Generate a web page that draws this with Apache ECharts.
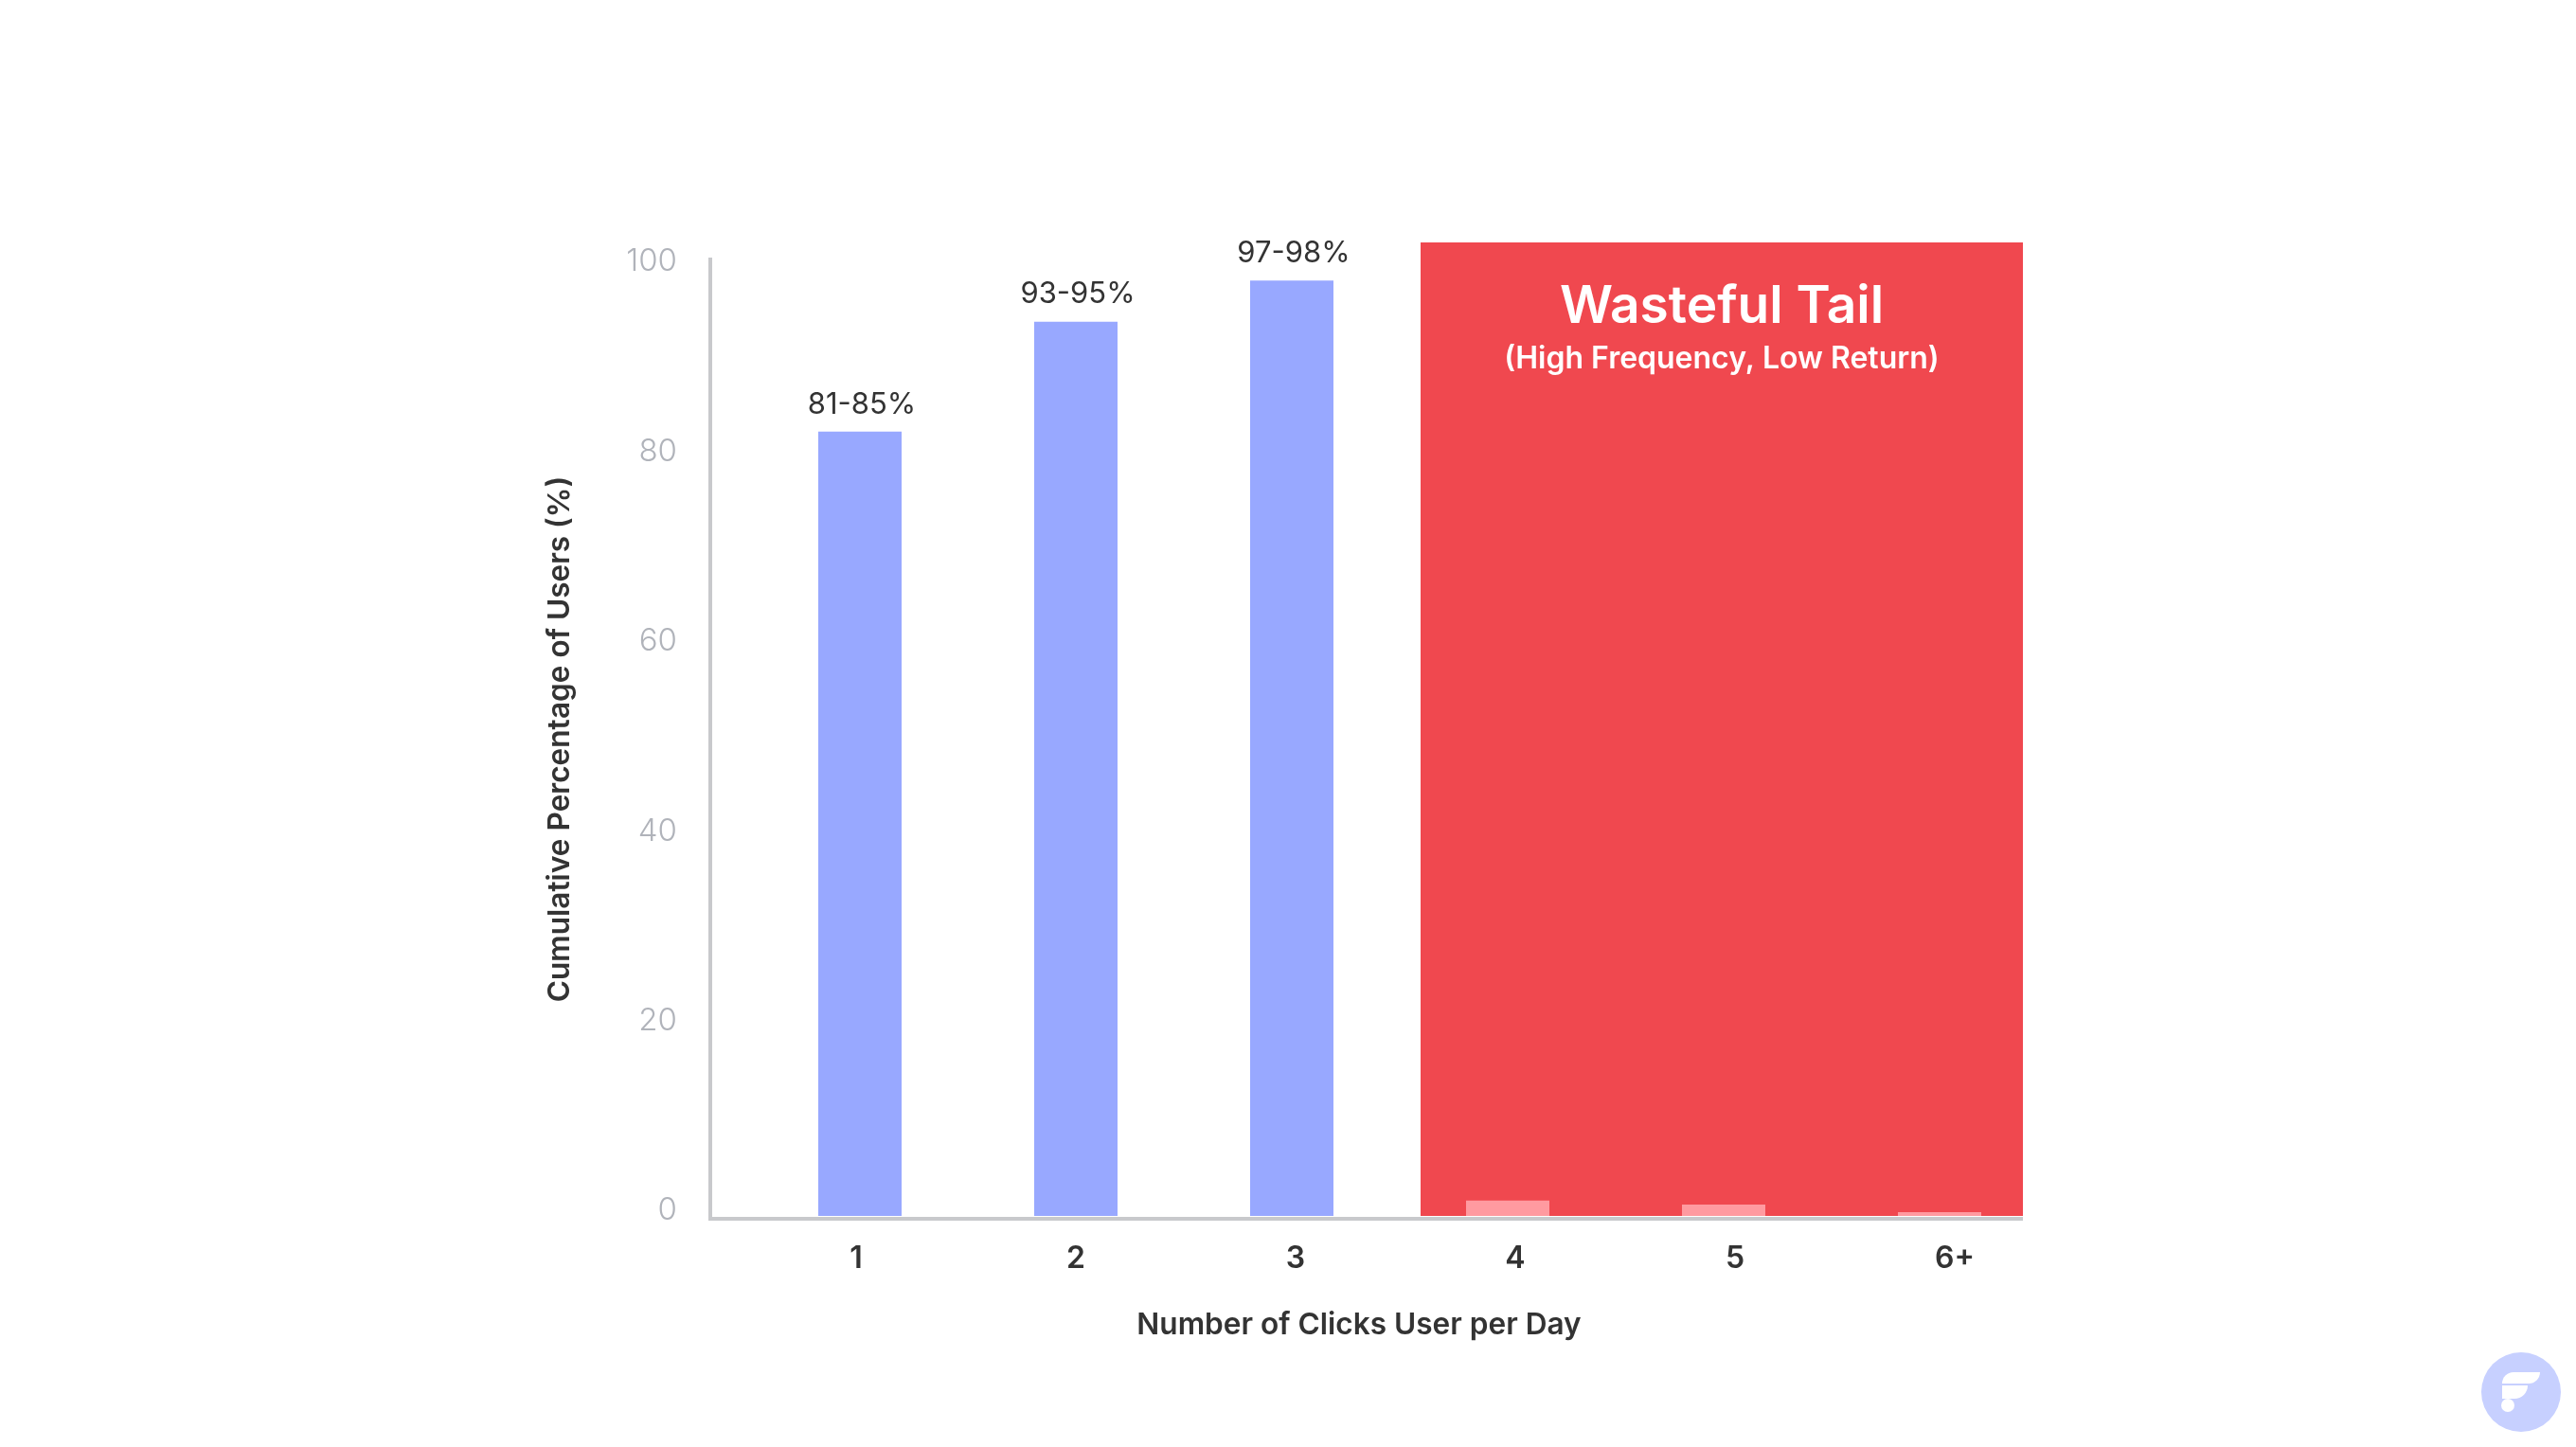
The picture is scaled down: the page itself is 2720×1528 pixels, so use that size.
<!DOCTYPE html>
<html><head><meta charset="utf-8">
<style>html,body{margin:0;padding:0;background:#fff}#c{width:2720px;height:1528px}</style>
<script src="https://cdn.jsdelivr.net/npm/echarts@6/dist/echarts.min.js"></script>
</head><body><div id="c"></div>
<script>
const categories = ["1","2","3","4","5","6+"];
const cumulativeValues = [82, 93.5, 97.8, 1.6, 1.2, 0.4];
const rangeLabels = ["81-85%","93-95%","97-98%","","",""];
const yTicks = [0,20,40,60,80,100];
const panelTitle = "Wasteful Tail";
const panelSubtitle = "(High Frequency, Low Return)";
const xName = "Number of Clicks User per Day";
const yName = "Cumulative Percentage of Users (%)";

const FONT = "Inter";
const chart = echarts.init(document.getElementById('c'), null, {renderer:'canvas', width:2720, height:1528});
chart.setOption({
  animation:false,
  backgroundColor:'#ffffff',
  grid:[
    {left:750, top:274, width:1384, height:1013},
    {left:794, top:256, width:1368, height:1028},
    {left:788, top:274, width:1392, height:1013}
  ],
  xAxis:[
    {gridIndex:0, type:'category', data:categories, position:'bottom',
     axisLine:{onZero:false, lineStyle:{color:'#c8c9cc', width:4, cap:'square'}},
     axisTick:{show:false}, axisLabel:{show:false},
     name:xName, nameLocation:'middle', nameGap:96,
     nameTextStyle:{fontFamily:FONT, fontSize:31.6, fontWeight:600, color:'#333333', padding:[0,14,0,0]}},
    {gridIndex:1, type:'category', data:categories, show:false},
    {gridIndex:2, type:'category', data:categories, axisLine:{show:false}, axisTick:{show:false},
     axisLabel:{fontFamily:FONT, fontSize:32, fontWeight:600, color:'#333333', margin:26}}
  ],
  yAxis:[
    {gridIndex:0, type:'value', min:-0.85, max:100.25,
     splitLine:{show:false},
     axisLine:{show:true, lineStyle:{color:'#c8c9cc', width:4, cap:'square'}},
     axisTick:{show:false},
     axisLabel:{customValues:yTicks, fontFamily:FONT, fontSize:33, fontWeight:300, color:'#b0b3ba', margin:35},
     name:yName, nameLocation:'middle', nameGap:143, nameRotate:90,
     nameTextStyle:{fontFamily:FONT, fontSize:31.6, fontWeight:600, color:'#333333'}},
    {gridIndex:1, type:'value', min:0, max:101.78, show:false},
    {gridIndex:2, type:'value', min:0, max:100, show:false}
  ],
  series:[{
    type:'bar', xAxisIndex:1, yAxisIndex:1, z:3, barWidth:88,
    data:cumulativeValues,
    itemStyle:{color:p=>p.dataIndex<3?'#98a8ff':'#ff9aa0'},
    label:{show:true, position:'top', distance:13, offset:[2,0],
      formatter:p=>rangeLabels[p.dataIndex],
      fontFamily:FONT, fontSize:31, fontWeight:400, color:'#333333'}
  }],
  graphic:[
    {type:'rect', z:1, shape:{x:1500,y:256,width:636,height:1028}, style:{fill:'#f0484f'}},
    {type:'text', z:5, style:{x:1818,y:324,text:panelTitle,fill:'#fff',font:'600 55px '+FONT,textAlign:'center',textVerticalAlign:'middle'}},
    {type:'text', z:5, style:{x:1818,y:379,text:panelSubtitle,fill:'#fff',font:'600 32px '+FONT,textAlign:'center',textVerticalAlign:'middle'}},
    {type:'circle', z:5, shape:{cx:2662,cy:1470,r:42}, style:{fill:'#c7d0ff'}},
    {type:'rect', z:6, shape:{x:2642,y:1449,width:40,height:12,r:[12,0,12,0]}, style:{fill:'#fff'}},
    {type:'rect', z:6, shape:{x:2642,y:1463,width:27,height:14,r:[0,0,14,0]}, style:{fill:'#fff'}},
    {type:'circle', z:6, shape:{cx:2648,cy:1484,r:7}, style:{fill:'#fff'}}
  ]
});
</script></body></html>
